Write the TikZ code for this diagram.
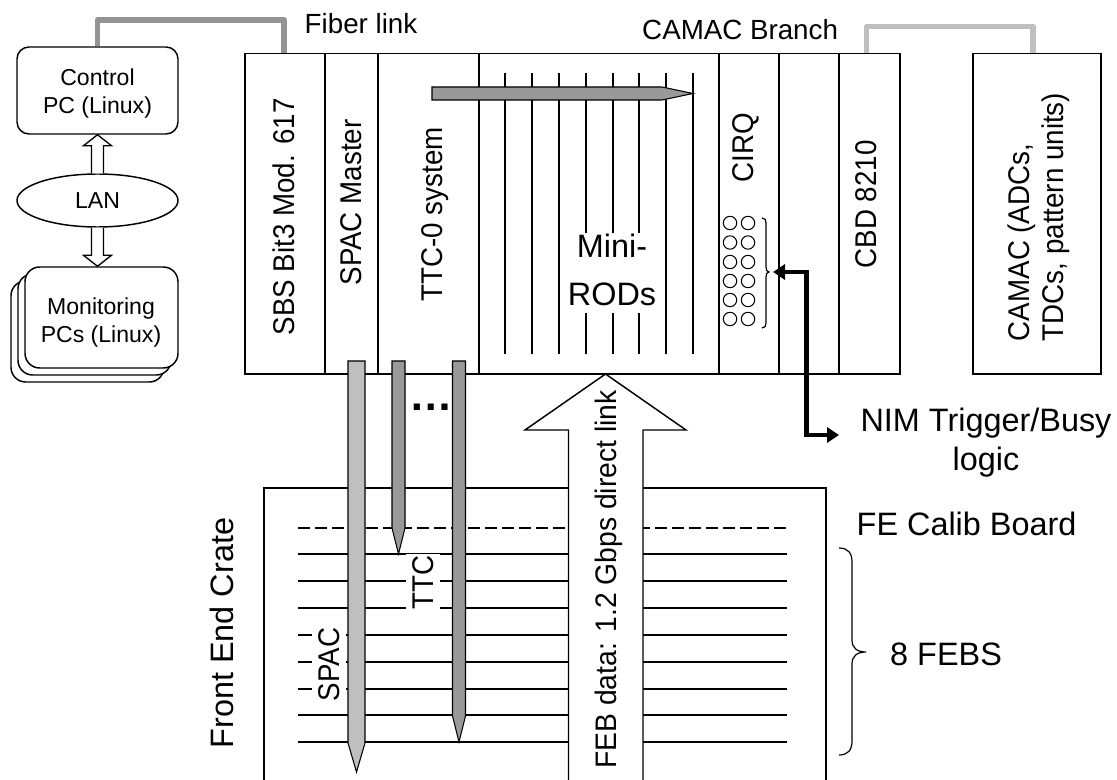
\documentclass[tikz,border=0pt]{standalone}
\usepackage{fontspec}
\setmainfont{Liberation Sans}
\usetikzlibrary{arrows.meta,shapes.geometric}
\newcommand\fsS{\fontsize{17.3pt}{21pt}\selectfont}
\newcommand\fsM{\fontsize{20.8pt}{25.5pt}\selectfont}
\newcommand\fsL{\fontsize{24.3pt}{29.25pt}\selectfont}
\newcommand\wide[1]{\scalebox{1}[1.08]{#1}}
\definecolor{dgray}{gray}{0.6}
\definecolor{lgray}{gray}{0.75}
\definecolor{fibgray}{gray}{0.58}
\begin{document}
\begin{tikzpicture}[x=0.75pt,y=-0.75pt,
  line width=1.1pt,
  txt/.style={inner sep=0pt},
  rlbl/.style={inner sep=0pt, rotate=90, font=\fsM},
  pcbox/.style={draw, fill=white, rounded corners=9pt, minimum width=120.75pt, minimum height=65.25pt, inner sep=0pt},
  monbox/.style={draw, fill=white, rounded corners=11pt, minimum width=114.75pt, minimum height=75.75pt, inner sep=0pt},
  hollow/.style={draw, fill=white, line width=1pt},
  pencil/.style={draw, line width=0.8pt},
  cable/.style={line width=4.3pt, line join=round},
  thinline/.style={line width=1pt},
  nim/.style={line width=3.2pt, {Triangle[length=9pt,width=11.25pt]}-{Triangle[length=9pt,width=11.25pt]}},
  whitelbl/.style={fill=white, inner xsep=1.5pt, inner ysep=5pt, rotate=90, font=\fsM},
]
\useasboundingbox (0,0) rectangle (1117,780);
\clip (0,0) rectangle (1117,780);

% ---------- left side computers ----------
\node[pcbox] (ctrl) at (97.5,90.5) {};
\node[txt, font=\fsS, align=center, anchor=north] (ctrlt) at (97.5,68) {Control\\PC (Linux)};
\node[draw, fill=white, ellipse, minimum width=120.75pt, minimum height=39.75pt, inner sep=0pt, font=\fsS] (lan) at (97.5,200.5) {LAN};
\node[monbox] (mon3) at (87.5,331.5) {};
\node[monbox] (mon2) at (94.5,324.5) {};
\node[monbox] (mon) at (101.5,317.5) {};
\node[txt, font=\fsS, align=center, anchor=north] (mont) at (101,297) {Monitoring\\PCs (Linux)};

% hollow arrows
\coordinate (ctrltip) at (lan.north |- ctrl.south);
\coordinate (montip) at (lan.south |- mon.north);
\draw[hollow] ([xshift=-4.5pt]lan.north) -- ([xshift=-4.5pt,yshift=-8.25pt]ctrltip) -- ([xshift=-10.5pt,yshift=-8.25pt]ctrltip) -- (ctrltip) -- ([xshift=10.5pt,yshift=-8.25pt]ctrltip) -- ([xshift=4.5pt,yshift=-8.25pt]ctrltip) -- ([xshift=4.5pt]lan.north);
\draw[hollow] ([xshift=-4.5pt]lan.south) -- ([xshift=-4.5pt,yshift=8.25pt]montip) -- ([xshift=-10.5pt,yshift=8.25pt]montip) -- (montip) -- ([xshift=10.5pt,yshift=8.25pt]montip) -- ([xshift=4.5pt,yshift=8.25pt]montip) -- ([xshift=4.5pt]lan.south);

% ---------- main crate ----------
\coordinate (sbstop) at (284,53.5);
\coordinate (cbdtop) at (866.5,53.5);
\coordinate (camactop) at (1033,53.5);
\draw[cable, fibgray] (ctrl.north) -- (ctrl.north |- 0,20) -- (sbstop |- 0,20) -- (sbstop);
\draw[cable, lgray] (cbdtop) -- (cbdtop |- 0,26.5) -- (camactop |- 0,26.5) -- (camactop);

\draw (245,53.5) rectangle (900,374);
\foreach \x in {325,378,479,719,779,839} \draw (\x,53.5) -- (\x,374);
\draw (973,53.5) rectangle (1101,374);

% Mini-ROD boards
\foreach \x in {505,532,559,666,693} \draw[thinline] (\x,73) -- (\x,354);
\foreach \x in {586,613,639} {\draw[thinline] (\x,73) -- (\x,233); \draw[thinline] (\x,313) -- (\x,354);}
\node[txt, font={\fontsize{24.3pt}{36pt}\selectfont}, align=center, anchor=north] (mrod) at (612,233) {Mini-\\RODs};

% TTC horizontal arrow
\draw[pencil, fill=dgray] (432,87) -- (662,87) -- (693,93.5) -- (662,100) -- (432,100) -- cycle;

% crate labels
\node[rlbl] (sbsl) at (284,217) {\wide{SBS Bit3 Mod. 617}};
\node[rlbl] (spacm) at (351,202.5) {\wide{SPAC Master}};
\node[rlbl] (ttc0) at (435,214.5) {\wide{TTC-0 system}};
\node[rlbl] (cirq) at (746,147.5) {\wide{CIRQ}};
\node[rlbl] (cbd) at (866,204.5) {\wide{CBD 8210}};
\node[rlbl, font={\fontsize{20.8pt}{23.6pt}\selectfont}] (camac) at (1040,217) {\wide{\begin{tabular}{@{}l@{}}CAMAC (ADCs,\\TDCs, pattern units)\end{tabular}}};

% CIRQ connectors
\foreach \r in {223,242.5,262,281,300,319} {
  \draw[line width=0.8pt] (730,\r) circle[radius=6.7];
  \draw[line width=0.8pt] (748,\r) circle[radius=6.7];
}
\draw[line width=0.9pt] (762,218) .. controls (765,218) and (766,220) .. (766,223) -- (766,267) .. controls (766,270) and (767,272) .. (769,272) .. controls (767,272) and (766,274) .. (766,277) -- (766,323) .. controls (766,326) and (765,328) .. (762,328);

% top labels
\node[txt, font=\fsM, anchor=base west] (fib) at (304,33.3) {Fiber link};
\node[txt, font=\fsM, anchor=base west] (camb) at (641.5,39.3) {CAMAC Branch};

% ---------- front end crate ----------
\draw (264,800) -- (264,488) -- (826,488) -- (826,800);
\draw[dash pattern=on 9pt off 3.75pt] (298,528) -- (787,528);
\foreach \y in {554,581,608,635,662,689,715,742} \draw (298,\y) -- (787,\y);

\node[whitelbl] (ttcl) at (423,582.5) {\wide{TTC}};
\node[whitelbl] (spacl) at (329,664.5) {\wide{SPAC}};

% vertical arrows
\draw[pencil, fill=lgray] (348,361) -- (365,361) -- (365,743) -- (356.5,772) -- (348,743) -- cycle;
\draw[pencil, fill=dgray] (392,361) -- (405,361) -- (405,528) -- (398.5,554) -- (392,528) -- cycle;
\draw[pencil, fill=dgray] (452.5,361) -- (465.5,361) -- (465.5,716) -- (459,742) -- (452.5,716) -- cycle;
\node[txt, anchor=base west, font={\fontsize{32.6pt}{32.6pt}\selectfont\bfseries}] (dots) at (409,411) {…};

% FEB block arrow
\draw[fill=white] (568.5,800) -- (568.5,430) -- (525,430) -- (605.5,374) -- (686,430) -- (643,430) -- (643,800);
\node[rlbl, font={\fontsize{21.2pt}{25pt}\selectfont}] (febl) at (609,579.5) {\scalebox{1}[1.05]{FEB data: 1.2 Gbps direct link}};

\node[rlbl, font=\fsL] (fec) at (221.7,633) {Front End Crate};

% ---------- right labels ----------
\node[txt, font=\fsL, align=center, anchor=north] (nimt) at (986,407) {NIM Trigger/Busy\\logic};
\node[txt, font=\fsL, anchor=base west] (fecal) at (856,535) {FE Calib Board};
\node[txt, font=\fsL, anchor=base west] (febs) at (889.5,665) {8 FEBS};

\draw[line width=0.9pt] (839,548) .. controls (848,548) and (852,553) .. (852,562) -- (852,640) .. controls (852,648) and (857,652) .. (866,652) .. controls (857,652) and (852,656) .. (852,664) -- (852,741) .. controls (852,750) and (848,755) .. (839,755);

% NIM connection
\coordinate (cirqin) at (773,272);
\coordinate (nimbend) at (806.5,272);
\coordinate (nimout) at (839,435);
\draw[nim] (cirqin) -- (nimbend) |- (nimout);
\end{tikzpicture}
\end{document}
